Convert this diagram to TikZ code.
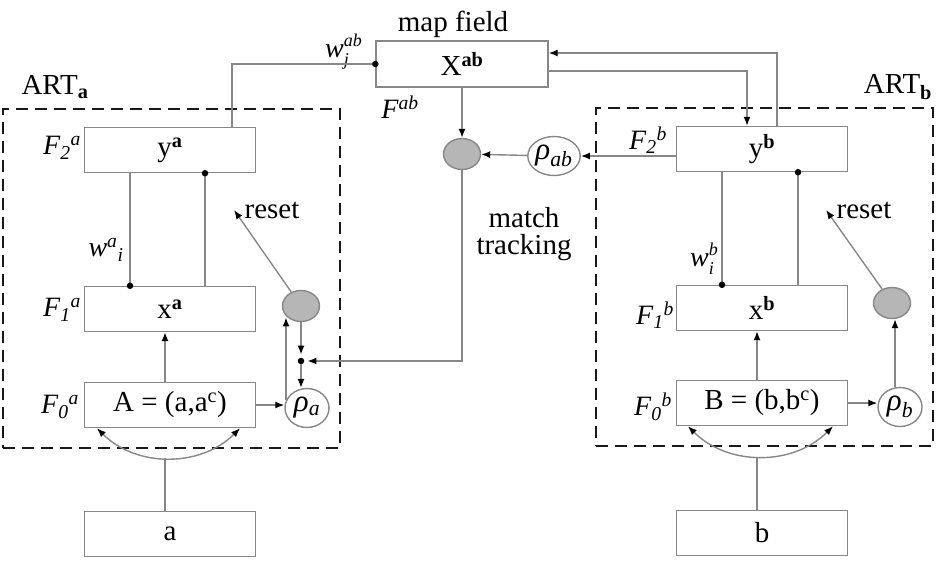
\documentclass[tikz,border=0pt]{standalone}
\usepackage{fontspec}
\setmainfont{Liberation Serif}
\usetikzlibrary{arrows.meta,positioning,calc,shapes.geometric}
\definecolor{linegray}{RGB}{135,135,135}
\definecolor{cellgray}{RGB}{182,182,182}
\definecolor{dashgray}{RGB}{25,25,25}
\newcommand{\stackw}[2]{\textit{w}\rlap{\raisebox{11pt}{\fontsize{18}{18}\selectfont\textit{#1}}}\raisebox{-8pt}{\fontsize{18}{18}\selectfont\textit{#2}}}

\begin{document}
\begin{tikzpicture}
[x=1pt,y=-1pt,
 font=\fontsize{29}{34}\selectfont,
 >={Latex[length=9pt,width=7pt,color=black]},
 ln/.style={draw=linegray,line width=1.4pt},
 box/.style={draw=linegray,line width=1.4pt,minimum width=171pt,minimum height=45pt,inner sep=0pt},
 gcell/.style={ellipse,draw=linegray,line width=1.4pt,fill=cellgray,minimum width=37pt,minimum height=31pt,inner sep=0pt},
 vig/.style={ellipse,draw=linegray,line width=1.4pt,minimum width=44pt,minimum height=39pt,inner sep=0pt,font=\fontsize{31}{34}\selectfont},
 dot/.style={circle,fill=black,inner sep=0pt,minimum size=6.5pt},
 artbox/.style={draw=dashgray,dash pattern=on 12pt off 7pt,line width=2.8pt,inner sep=0pt},
 flab/.style={font=\fontsize{28}{30}\selectfont,inner sep=0pt}]
\useasboundingbox (0,0) rectangle (941,563);
% ART modules
\node[artbox,minimum width=337pt,minimum height=339pt] (artA) at (171.5,278.5) {};
\node[artbox,minimum width=337pt,minimum height=338pt] (artB) at (764.5,277) {};
\node (tartA) at (55,87) {ART\textsubscript{\textbf{a}}};
\node (tartB) at (898,87) {ART\textsubscript{\textbf{b}}};
% map field
\node[box,minimum width=172pt,minimum height=46pt] (mf) at (462,64) {\raisebox{-3pt}{X\textsuperscript{\textbf{ab}}}};
\node (tmf) at (453,24) {map field};
\node[flab] (tFab) at (400,107) {\textit{F\textsuperscript{ab}}};
\node[dot] (wj) at (mf.west) {};
\node[flab] (twab) at (337,52) {\stackw{ab}{j}};
\node[gcell] (gm) at (462,154) {};
\node[vig] (rab) at (554,156) {\textit{ρ}\textsubscript{\textit{ab}}};
\node[align=center,font=\fontsize{29}{27}\selectfont] (tmt) at (524,234) {match\\tracking};
% ART a
\node[box] (F2a) at (170,150) {y\textsuperscript{\textbf{a}}};
\node[box] (F1a) at (170,309) {\raisebox{-8pt}{x\textsuperscript{\textbf{a}}}};
\node[box] (F0a) at (170,405) {A = (a,a\textsuperscript{c})};
\node[box] (ina) at (170,534) {\raisebox{-9pt}{a}};
\node[flab] (tF2a) at (62,148) {\textit{F}\textsubscript{\textit{2}}\textsuperscript{\textit{a}}};
\node[flab] (tF1a) at (62,310) {\textit{F}\textsubscript{\textit{1}}\textsuperscript{\textit{a}}};
\node[flab] (tF0a) at (60,407) {\textit{F}\textsubscript{\textit{0}}\textsuperscript{\textit{a}}};
\node[flab] (twa) at (106,250) {\textit{w}\textsuperscript{\textit{a}}\textsubscript{\textit{i}}};
\node (tresA) at (272,210) {reset};
\node[gcell] (gA) at (301,306) {};
\node[vig] (rA) at (307,408) {\textit{ρ}\textsubscript{\textit{a}}};
\node[dot] (jA) at (301,361) {};
% ART b
\node[box] (F2b) at (762,149) {y\textsuperscript{\textbf{b}}};
\node[box] (F1b) at (762,308) {\raisebox{-8pt}{x\textsuperscript{\textbf{b}}}};
\node[box] (F0b) at (762,403) {B = (b,b\textsuperscript{c})};
\node[box] (inb) at (762,533) {\raisebox{-9pt}{b}};
\node[flab] (tF2b) at (648,140) {\textit{F}\textsubscript{\textit{2}}\textsuperscript{\textit{b}}};
\node[flab] (tF1b) at (655,315) {\textit{F}\textsubscript{\textit{1}}\textsuperscript{\textit{b}}};
\node[flab] (tF0b) at (653,407) {\textit{F}\textsubscript{\textit{0}}\textsuperscript{\textit{b}}};
\node[flab] (twb) at (702,259) {\stackw{b}{i}};
\node (tresB) at (864,210) {reset};
\node[gcell] (gB) at (892,303) {};
\node[vig] (rB) at (900,407) {\textit{ρ}\textsubscript{\textit{b}}};
% map field links
\draw[ln] ([xshift=62pt]F2a.north) |- (wj);
\draw[ln,->] (mf) -- (gm);
\draw[ln,->] ([xshift=15pt]F2b.north) |- ([yshift=11pt]mf.east);
\draw[ln,->] ([yshift=-7pt]mf.east) -| ([xshift=-15pt]F2b.north);
\draw[ln,->] (F2b.west |- rab) -- (rab);
\draw[ln,->] (rab) -- (gm);
\draw[ln,->,shorten >=3pt] (gm) |- (jA);
% ART a links
\draw[ln] ([xshift=-40pt]F2a.south) -- ([xshift=-40pt]F1a.north) node[dot] (dA1) {};
\draw[ln] ([xshift=35pt]F1a.north) -- ([xshift=35pt]F2a.south) node[dot] (dA2) {};
\draw[ln,->] ([xshift=-5pt]F0a.north) -- ([xshift=-5pt]F1a.south);
\draw[ln,->] (F0a.east) -- (F0a.east -| rA.west);
\draw[ln,->] (rA.160) -- (rA.160 |- gA.south west);
\draw[ln,->,shorten >=3pt] (gA) -- (jA);
\draw[ln,->] (jA) -- (jA |- rA.north);
\draw[ln,->] (gA) -- ([xshift=-7pt]tresA.west);
\draw[ln,<->] ([xshift=-73pt]F0a.south) to[bend right=45] ([xshift=70pt]F0a.south);
\draw[ln] ([xshift=-5pt]ina.north) -- ++(0,-53);
% ART b links
\draw[ln] ([xshift=-40pt]F2b.south) -- ([xshift=-40pt]F1b.north) node[dot] (dB1) {};
\draw[ln] ([xshift=36pt]F1b.north) -- ([xshift=36pt]F2b.south) node[dot] (dB2) {};
\draw[ln,->] ([xshift=-5pt]F0b.north) -- ([xshift=-5pt]F1b.south);
\draw[ln,->] (F0b.east) -- (F0b.east -| rB.west);
\draw[ln,->] ([xshift=-5pt]rB.north) -- ([xshift=-5pt]rB.north |- gB.south);
\draw[ln,->] (gB) -- ([xshift=-7pt]tresB.west);
\draw[ln,<->] ([xshift=-74pt]F0b.south) to[bend right=45] ([xshift=71pt]F0b.south);
\draw[ln] ([xshift=-5pt]inb.north) -- ++(0,-53);
\end{tikzpicture}
\end{document}
